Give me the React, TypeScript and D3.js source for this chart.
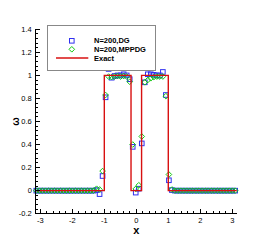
import React from 'react';
import * as d3 from 'd3';

// sample positions (every 3rd cell of N=200 on [-pi, pi])
const xs = [
  -3.126, -3.032, -2.938, -2.843, -2.749, -2.655, -2.561, -2.467, -2.372, -2.278,
  -2.184, -2.09, -1.996, -1.901, -1.807, -1.713, -1.619, -1.525, -1.43, -1.336,
  -1.242, -1.148, -1.054, -0.96, -0.865, -0.771, -0.677, -0.583, -0.489, -0.394,
  -0.3, -0.206, -0.112, -0.018, 0.077, 0.171, 0.265, 0.359, 0.453, 0.548,
  0.642, 0.736, 0.83, 0.924, 1.019, 1.113, 1.207, 1.301, 1.395, 1.49,
  1.584, 1.678, 1.772, 1.866, 1.961, 2.055, 2.149, 2.243, 2.337, 2.432,
  2.526, 2.62, 2.714, 2.808, 2.903, 2.997, 3.091,
];

const dg = [
  0, 0, 0, 0, 0, 0, 0, 0, 0, 0,
  0, 0, 0, 0, 0, 0, 0, 0, 0, 0,
  0.005, -0.03, 0.127, 0.81, 1.056, 0.98, 0.995, 1.0, 1.0, 1.01,
  1.0, 0.967, 0.38, -0.017, 0.017, 0.41, 0.94, 1.01, 1.01, 1.005,
  1.0, 1.0, 1.03, 0.83, 0.09, 0.005, 0, 0, 0, 0,
  0, 0, 0, 0, 0, 0, 0, 0, 0, 0,
  0, 0, 0, 0, 0, 0, 0,
];

const mppdg = [
  0, 0, 0, 0, 0, 0, 0, 0, 0, 0,
  0, 0, 0, 0, 0, 0, 0, 0, 0, 0,
  0.017, 0.01, 0.17, 0.83, 0.99, 0.985, 0.99, 0.995, 0.99, 0.995,
  0.99, 0.945, 0.4, 0.015, 0.047, 0.47, 0.94, 0.96, 0.975, 0.985,
  0.99, 0.99, 0.99, 0.82, 0.14, 0.01, 0, 0, 0, 0,
  0, 0, 0, 0, 0, 0, 0, 0, 0, 0,
  0, 0, 0, 0, 0, 0, 0,
];

const exactX = [-Math.PI, -1, -1, -0.165, -0.165, 0.165, 0.165, 1, 1, Math.PI];
const exactY = [0, 0, 1, 1, 0, 0, 1, 1, 0, 0];

const xTicks = [-3, -2, -1, 0, 1, 2, 3];
const yTicks = [-0.2, 0, 0.2, 0.4, 0.6, 0.8, 1, 1.2, 1.4];
const legendLabels = ['N=200,DG', 'N=200,MPPDG', 'Exact'];

const W = 271;
const H = 241;
const font = 'Liberation Sans, Arial, sans-serif';
const blue = '#3030f0';
const green = '#10c810';
const red = '#d81010';

export default function App() {
  const x = d3.scaleLinear().domain([-Math.PI, Math.PI]).range([35.8, 236.8]);
  const y = d3.scaleLinear().domain([-0.2, 1.4]).range([213.7, 29.3]);

  const xMinor = d3.range(-3.2, 3.21, 0.2).filter((v) => v >= -Math.PI && v <= Math.PI);
  const yMinor = d3.range(-0.2, 1.401, 0.04);

  const line = d3
    .line<number>()
    .x((d, i) => x(exactX[i]))
    .y((d, i) => y(exactY[i]));

  const diamond = (cx: number, cy: number, r: number) =>
    `M${cx},${cy - r}L${cx + r},${cy}L${cx},${cy + r}L${cx - r},${cy}Z`;

  const x0 = x.range()[0];
  const yb = y.range()[0];

  return (
    <svg
      width={W}
      height={H}
      style={{ position: 'absolute', left: 0, top: 0, background: '#fff' }}
      fontFamily={font}
    >
      {/* markers */}
      <g fill="none" stroke={blue} strokeWidth={1}>
        {xs.map((v, i) => (
          <rect key={i} x={x(v) - 2.3} y={y(dg[i]) - 2.3} width={4.6} height={4.6} />
        ))}
      </g>
      <g fill="none" stroke={green} strokeWidth={1}>
        {xs.map((v, i) => (
          <path key={i} d={diamond(x(v), y(mppdg[i]), 2.8)} />
        ))}
      </g>
      <path d={line(exactX) || ''} fill="none" stroke={red} strokeWidth={1.4} />

      {/* axes */}
      <g stroke="#000" strokeWidth={1} shapeRendering="crispEdges">
        <line x1={x0} x2={x0} y1={y(1.4)} y2={yb} />
        <line x1={x0} x2={x.range()[1]} y1={yb} y2={yb} />
        {yMinor.map((v, i) => (
          <line key={'ym' + i} x1={x0} x2={x0 + 2.5} y1={y(v)} y2={y(v)} />
        ))}
        {yTicks.map((v) => (
          <line key={'y' + v} x1={x0} x2={x0 + 4.5} y1={y(v)} y2={y(v)} />
        ))}
        {xMinor.map((v, i) => (
          <line key={'xm' + i} x1={x(v)} x2={x(v)} y1={yb} y2={yb - 2.5} />
        ))}
        {xTicks.map((v) => (
          <line key={'x' + v} x1={x(v)} x2={x(v)} y1={yb} y2={yb - 4.5} />
        ))}
      </g>
      <g fontSize={7.5} fill="#000">
        {yTicks.map((v) => (
          <text key={v} x={x0 - 4} y={y(v)} dy="0.35em" textAnchor="end">
            {v === 0 || v === 1 ? String(v) : v.toFixed(1)}
          </text>
        ))}
        {xTicks.map((v) => (
          <text key={v} x={x(v)} y={yb + 9.5} textAnchor="middle">
            {v}
          </text>
        ))}
      </g>
      <text x={x(0)} y={234} textAnchor="middle" fontSize={11} fontWeight="bold">
        x
      </text>
      <text
        transform={`translate(19,${y(0.6)}) rotate(-90)`}
        textAnchor="middle"
        fontSize={10}
        fontWeight="bold"
      >
        ω
      </text>

      {/* legend */}
      <rect x={47} y={25} width={108} height={45} fill="#fff" stroke="#888" strokeWidth={1} shapeRendering="crispEdges" />
      <rect x={69.5} y={38.5} width={4.6} height={4.6} fill="none" stroke={blue} />
      <path d={diamond(71.8, 49.3, 2.8)} fill="none" stroke={green} />
      <line x1={56} x2={88.3} y1={58} y2={58} stroke={red} strokeWidth={1.4} />
      <g fontSize={7.5} fontWeight="bold" fill="#000">
        {legendLabels.map((t, i) => (
          <text key={t} x={94} y={40.7 + i * 8.65} dy="0.35em">
            {t}
          </text>
        ))}
      </g>
    </svg>
  );
}
